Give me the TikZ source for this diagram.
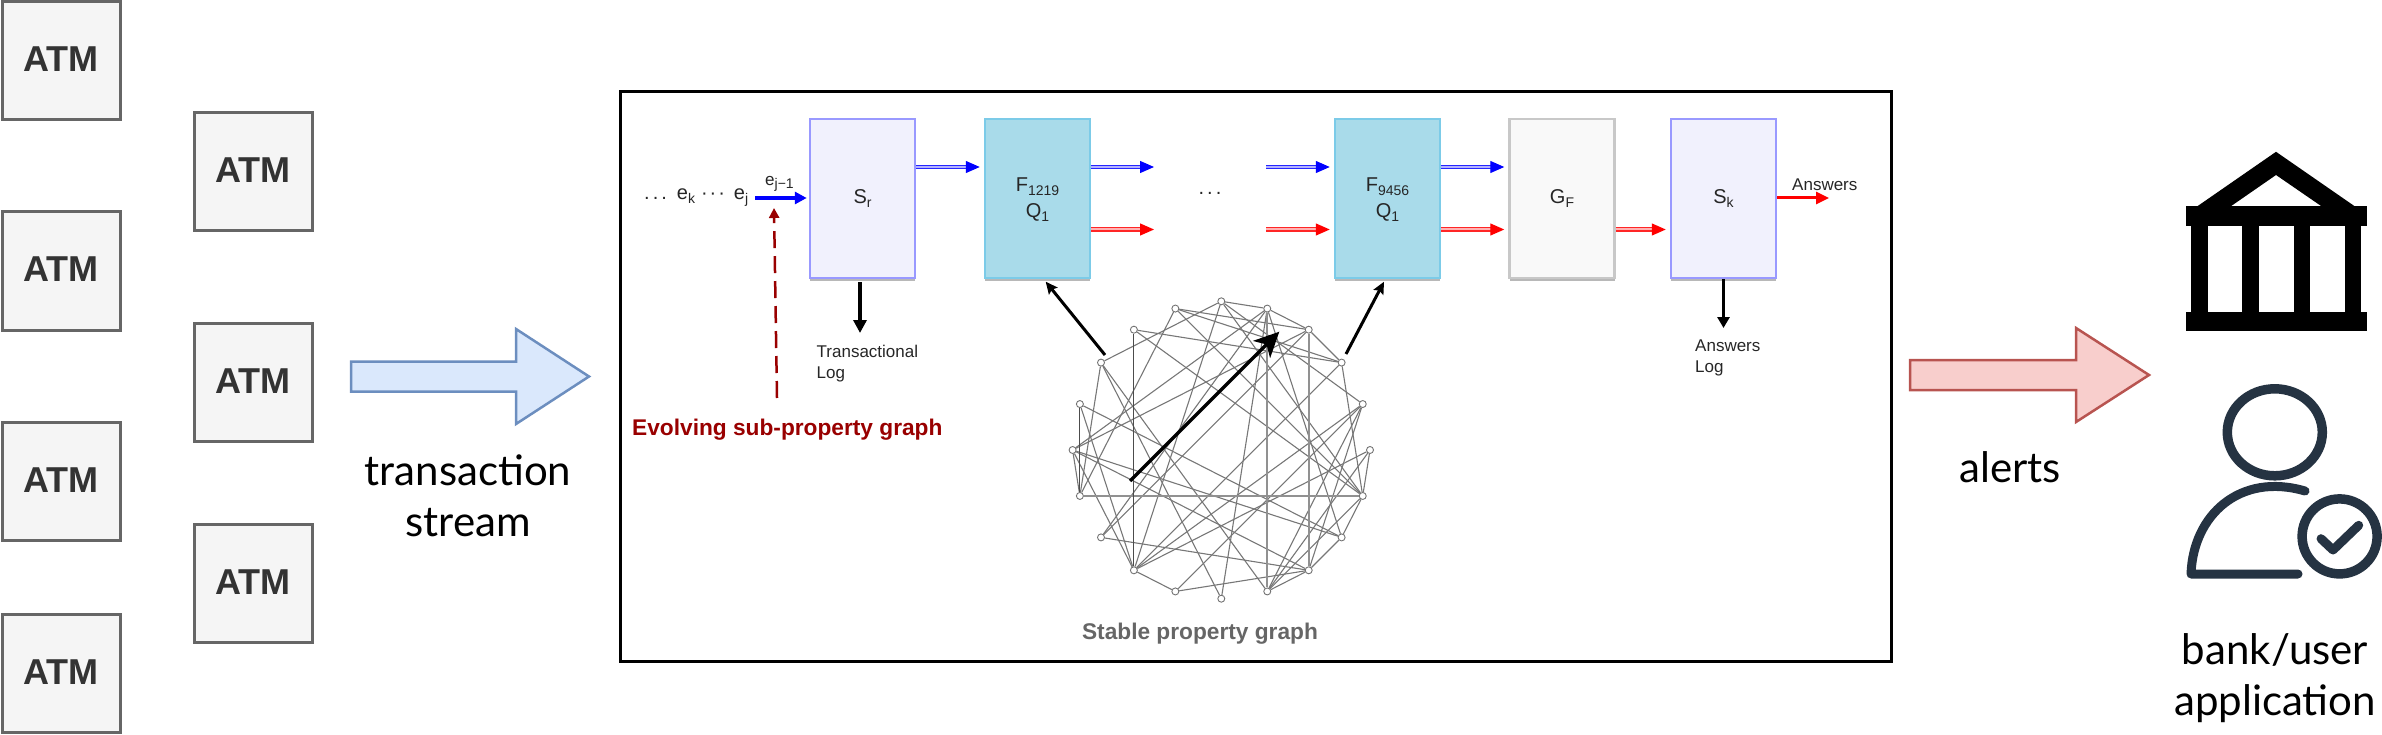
\documentclass[tikz,border=0pt]{standalone}
\usepackage{fontspec}
\setmainfont{Lato}
\newfontfamily\arial{Liberation Sans}
\usetikzlibrary{arrows.meta,shadows,calc}
\definecolor{atmfill}{HTML}{F5F5F5}
\definecolor{atmline}{HTML}{666666}
\definecolor{atmtext}{HTML}{333333}
\definecolor{bluefill}{HTML}{DAE8FC}
\definecolor{blueline}{HTML}{6C8EBF}
\definecolor{redfill}{HTML}{F8CECC}
\definecolor{redline}{HTML}{B85450}
\definecolor{srfill}{HTML}{F1F1FD}
\definecolor{srline}{HTML}{9999FF}
\definecolor{ffill}{HTML}{A9DBEA}
\definecolor{fline}{HTML}{7CCBE8}
\definecolor{gfill}{HTML}{F9F9F9}
\definecolor{gline}{HTML}{C8C8C8}
\definecolor{darkred}{HTML}{990000}
\definecolor{person}{HTML}{253342}
\definecolor{edgecol}{HTML}{777777}
\definecolor{edgelight}{HTML}{919191}
\newcommand{\lsub}[1]{\raisebox{-4pt}{\fontsize{14}{14}\selectfont #1}}
\tikzset{
  atm/.style={draw=atmline,fill=atmfill,line width=3pt,minimum width=118pt,minimum height=118pt,inner sep=0pt,text=atmtext,font=\arial\bfseries\fontsize{36}{40}\selectfont},
  atmlabel/.style={text=atmtext,font=\arial\bfseries\fontsize{36}{40}\selectfont,inner sep=0pt},
  bigtext/.style={font=\fontsize{42}{51}\selectfont,align=center,inner sep=0pt,text=black},
  stage/.style={line width=2.5pt,minimum width=105pt,minimum height=159pt,inner sep=0pt,align=center,text=black!85,font=\arial\fontsize{20}{26}\selectfont,
    drop shadow={shadow xshift=0pt,shadow yshift=-3pt,fill=black!28,opacity=1}},
  sr/.style={stage,draw=srline,fill=srfill},
  fq/.style={stage,draw=fline,fill=ffill},
  gf/.style={stage,draw=gline,fill=gfill},
  small/.style={font=\arial\fontsize{17}{21}\selectfont,inner sep=0pt,align=left,text=black!85},
  bluedbl/.style={draw=blue!85,double=blue!30,line width=1.3pt,double distance=2pt,-{Triangle[length=14pt,width=12pt,color=blue]}},
  reddbl/.style={draw=red!85,double=red!30,line width=1.3pt,double distance=2pt,-{Triangle[length=14pt,width=12pt,color=red]}},
  gnode/.style={circle,draw=black!55,fill=white,line width=0.9pt,minimum size=7pt,inner sep=0pt},
  edge/.style={draw=edgecol,line width=1.1pt},
  edgeh/.style={draw=edgelight,line width=2pt},
  edged/.style={draw=black!70,line width=1.1pt},
  blk/.style={draw=black,line width=3pt,-{Stealth[length=12pt,width=11pt,inset=2pt]}},
}
\begin{document}
\begin{tikzpicture}[x=1pt,y=-1pt]
\useasboundingbox (0,0) rectangle (2382,735);
% ATM boxes
\foreach \n/\x/\y in {a1/61/61,a2/61/271,a3/61/481,a4/61/673,b1/253/172,b2/253/382,b3/253/583}
  \node[atm,text height=26pt,text depth=4pt] (\n) at (\x,\y) {ATM};
% big arrows
\draw[draw=blueline,fill=bluefill,line width=2.5pt,miter limit=6]
  (351,361.5) -- (516,361.5) -- (516,329) -- (589,376.5) -- (516,424) -- (516,391.5) -- (351,391.5) -- cycle;
\draw[draw=redline,fill=redfill,line width=2.5pt,miter limit=6]
  (1910,360) -- (2076,360) -- (2076,328) -- (2149,375) -- (2076,422) -- (2076,390) -- (1910,390) -- cycle;
\node[bigtext,anchor=north] (tstream) at (468,455) {transaction\\stream};
\node[bigtext,anchor=base] (alerts) at (2010,482) {alerts};
\node[bigtext,anchor=north] (bankuser) at (2275,633) {bank/user\\application};
% frame
\draw[draw=black,line width=3pt] (620,91.5) rectangle (1891,661);
% stages
\node[sr] (sr) at (862.5,198.5) {S\lsub{r}};
\node[fq] (f1) at (1037.5,198.5) {\rule{0pt}{17pt}F\lsub{1219}\\Q\lsub{1}};
\node[fq] (f2) at (1387.5,198.5) {\rule{0pt}{17pt}F\lsub{9456}\\Q\lsub{1}};
\node[gf] (gfbox) at (1562,198.5) {G\lsub{F}};
\node[sr] (sk) at (1723.5,198.5) {S\lsub{k}};
% rows and free ends
\coordinate (rowb) at (0,167);
\coordinate (rowr) at (0,229.5);
\coordinate (rowm) at (0,198);
\coordinate (o1b) at (1154,167);
\coordinate (o1r) at (1154,229.5);
\coordinate (i2b) at (1266,167);
\coordinate (i2r) at (1266,229.5);
\coordinate (ans) at (1829,198);
\coordinate (ein) at (755,198);
\coordinate (dashs) at (777,398);
\coordinate (dashe) at (774,208);
\coordinate (tlog) at (860,333);
\coordinate (alog) at (1723.5,328);
% flow arrows
\draw[bluedbl] (sr.east |- rowb) -- ($(f1.west |- rowb)+(-4,0)$);
\draw[bluedbl] (f1.east |- rowb) -- (o1b);
\draw[reddbl] (f1.east |- rowr) -- (o1r);
\draw[bluedbl] (i2b) -- ($(f2.west |- rowb)+(-4,0)$);
\draw[reddbl] (i2r) -- ($(f2.west |- rowr)+(-4,0)$);
\draw[bluedbl] (f2.east |- rowb) -- ($(gfbox.west |- rowb)+(-4,0)$);
\draw[reddbl] (f2.east |- rowr) -- ($(gfbox.west |- rowr)+(-4,0)$);
\draw[reddbl] (gfbox.east |- rowr) -- ($(sk.west |- rowr)+(-4,0)$);
\draw[draw=red,line width=3pt,-{Triangle[length=13pt,width=12pt]}] (sk.east |- rowm) -- (ans);
\draw[draw=blue,line width=3.5pt,-{Triangle[length=12pt,width=12pt]}] (ein) -- ($(sr.west |- rowm)+(-2,0)$);
\draw[draw=darkred,line width=2.5pt,dash pattern=on 17pt off 8pt,-{Triangle[length=10pt,width=10pt]}] (dashs) -- (dashe);
\draw[draw=black,line width=4pt,-{Triangle[length=13pt,width=13pt]}] (860,282.5) -- (tlog);
\draw[draw=black,line width=3.5pt,-{Triangle[length=11pt,width=12pt]}] (sk.south) -- (alog);
% text
\node[font=\arial\fontsize{20}{24}\selectfont,anchor=base west,inner sep=0pt,text=black!85] (stream) at (644,200) {.\hspace{3pt}.\hspace{3pt}.\hspace{10pt}e\lsub{k}\hspace{6pt}·\hspace{2pt}·\hspace{2pt}·\hspace{9pt}e\lsub{j}};
\node[font=\arial\fontsize{17}{20}\selectfont,anchor=base west,inner sep=0pt,text=black!85] (ej) at (765,186) {e\raisebox{-3pt}{\fontsize{14}{14}\selectfont j−1}};
\node[small,anchor=north west] (tl) at (816.5,344.5) {Transactional\\Log};
\node[small,anchor=north west] (al) at (1695,339.5) {Answers\\Log};
\node[small,anchor=base west] (answers) at (1792,190.5) {Answers};
\node[font=\arial\fontsize{20}{24}\selectfont,anchor=center,inner sep=0pt,text=black!85] (mdots) at (1210,193) {.\hspace{3pt}.\hspace{3pt}.};
\node[font=\arial\bfseries\fontsize{22.7}{26}\selectfont,anchor=base west,inner sep=0pt,text=darkred] (evolving) at (632,435.5) {Evolving sub-property graph};
\node[font=\arial\bfseries\fontsize{22.7}{26}\selectfont,anchor=base,inner sep=0pt,text=black!60] (stable) at (1200,639) {Stable property graph};
% graph
\foreach \i in {0,...,19}
  \node[gnode] (g\i) at ({1221.3+148.7*sin(18*\i)},{450-148.7*cos(18*\i)}) {};
\foreach \a/\b in {0/1,1/2,2/3,3/6,5/6,6/7,7/8,8/9,11/12,14/15,
  0/4,0/6,0/12,0/17,1/7,1/10,1/13,1/15,2/13,2/15,2/19,
  3/12,3/18,3/19,4/8,4/9,4/11,4/12,5/9,5/12,6/9,6/18,6/19,
  7/15,7/16,8/11,8/13,8/15,9/17,10/17,12/15,12/16,14/17,14/19}
  \draw[edge] (g\a) -- (g\b);
\foreach \a/\b in {1/9,2/8,6/14}
  \draw[edgeh] (g\a) -- (g\b);
\foreach \a/\b in {12/18,14/16}
  \draw[edged] (g\a) -- (g\b);
% graph arrows
\coordinate (ga) at (1130,481);
\coordinate (gb) at (1279.3,331.7);
\coordinate (fa) at (1105,355);
\coordinate (fb) at (1045.7,281.7);
\coordinate (fc) at (1346,354);
\coordinate (fd) at (1384,281.7);
\draw[draw=black,line width=3.5pt,-{Stealth[length=25pt,width=24pt,inset=7pt]}] (ga) -- (gb);
\draw[blk] (fa) -- (fb);
\draw[blk] (fc) -- (fd);
% bank icon
\fill[black,even odd rule]
  (2276,151.8) -- (2355,206.5) -- (2197,206.5) -- cycle
  (2276,175) -- (2321.8,206.5) -- (2230.5,206.5) -- cycle;
\fill[black] (2186,206.5) rectangle (2366.5,225.7);
\fill[black] (2186,311.8) rectangle (2366.5,331);
\fill[black] (2191.3,225.7) rectangle (2208,311.8);
\fill[black] (2242.3,225.7) rectangle (2259,311.8);
\fill[black] (2293.6,225.7) rectangle (2310.4,311.8);
\fill[black] (2344.6,225.7) rectangle (2361.4,311.8);
% person icon
\draw[draw=person,line width=9.5pt] (2274.8,432.3) ellipse [x radius=47.5,y radius=43.5];
\draw[draw=person,line width=9pt,line cap=round,line join=round]
  (2305,491) .. controls (2240,472) and (2193,515) .. (2191,574) -- (2298,574);
\draw[draw=person,line width=9.5pt] (2339.6,536.4) circle [radius=37.5];
\draw[draw=person,line width=9pt,line cap=round,line join=round]
  (2321,538.7) -- (2333,550) -- (2358.7,525.3);
\end{tikzpicture}
\end{document}
